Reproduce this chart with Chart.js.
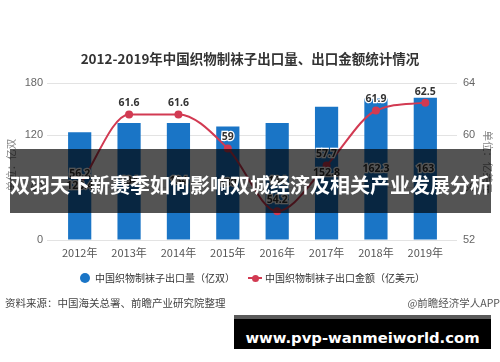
<!DOCTYPE html>
<html>
<head>
<meta charset="utf-8">
<script src="https://cdn.jsdelivr.net/npm/chart.js@4.4.1/dist/chart.umd.min.js"></script>
<style>
body{margin:0;background:#fff;}
#wrap{position:relative;width:500px;height:362px;overflow:hidden;font-family:"Noto Sans CJK SC","Noto Sans",sans-serif;}
#c{position:absolute;left:0;top:0;}
.t{position:absolute;white-space:nowrap;}
#title{left:0;width:500px;top:48px;line-height:20px;text-align:center;font-size:13.5px;font-weight:bold;color:#333;}
.lg{font-size:10px;color:#333;line-height:16px;top:270px;}
#dot1{position:absolute;left:80px;top:273px;width:10px;height:10px;border-radius:50%;background:#1a75c6;}
#ln2{position:absolute;left:248px;top:277px;width:14px;height:2px;background:#d23a52;}
#dot2{position:absolute;left:251.5px;top:274.5px;width:7px;height:7px;border-radius:50%;background:#d23a52;}
.src{font-size:10.5px;color:#444;line-height:16px;top:295px;}
#banner{position:absolute;left:10px;top:149px;width:481px;height:64px;background:rgba(0,0,0,0.67);}
#bannerText{left:0;width:500px;top:171px;line-height:28px;text-align:center;font-size:20px;font-weight:bold;color:#fff;}
#foot{position:absolute;left:234px;top:315px;width:257px;height:30px;border-top:4px solid #5a5a5a;background:#000;}
#footText{left:234px;width:257px;top:328px;line-height:20px;text-align:center;font-family:"DejaVu Sans",sans-serif;font-size:14.8px;font-weight:bold;color:#fff;}
</style>
</head>
<body>
<div id="wrap">
<canvas id="c" width="500" height="362"></canvas>
<div class="t" id="title">2012-2019年中国织物制袜子出口量、出口金额统计情况</div>
<div id="dot1"></div>
<div class="t lg" style="left:95px">中国织物制袜子出口量（亿双）</div>
<div id="ln2"></div><div id="dot2"></div>
<div class="t lg" style="left:265px">中国织物制袜子出口金额（亿美元）</div>
<div class="t src" style="left:5px">资料来源：中国海关总署、前瞻产业研究院整理</div>
<div class="t src" style="right:0;color:#555">@前瞻经济学人APP</div>
<div id="banner"></div>
<div class="t" id="bannerText">双羽天下新赛季如何影响双城经济及相关产业发展分析</div>
<div id="foot"></div>
<div class="t" id="footText">www.pvp-wanmeiworld.com</div>
</div>
<script>
const years = ["2012年","2013年","2014年","2015年","2016年","2017年","2018年","2019年"];
const exportVolume = [123.4, 134, 134, 130, 134, 152.8, 162.3, 163];
const exportAmount = [56.2, 61.6, 61.6, 59, 54.2, 57.7, 61.9, 62.5];
const leftTicks = [0, 60, 120, 180];
const rightTicks = [52, 56, 60, 64];

const barColor = "#1a75c6";
const lineColor = "#d23a52";

// value labels + rotated unit titles
const labelPlugin = {
id:"labels",
afterDatasetsDraw(chart){
const ctx = chart.ctx;
ctx.save();
ctx.textAlign = "center";
ctx.textBaseline = "middle";
ctx.font = "bold 10.5px 'Noto Sans','DejaVu Sans',sans-serif";
ctx.lineWidth = 2.5;
ctx.strokeStyle = "#fff";
ctx.fillStyle = "#333";
chart.getDatasetMeta(0).data.forEach((el,i)=>{
const txt = String(exportVolume[i]);
const y = (el.y + el.base) / 2;
ctx.strokeText(txt, el.x, y);
ctx.fillText(txt, el.x, y);
});
chart.getDatasetMeta(1).data.forEach((el,i)=>{
const txt = String(exportAmount[i]);
ctx.strokeText(txt, el.x, el.y - 11);
ctx.fillText(txt, el.x, el.y - 11);
});
ctx.font = "10.5px 'Noto Sans CJK SC',sans-serif";
ctx.fillStyle = "#888";
ctx.translate(11, 165);
ctx.rotate(-Math.PI/2);
ctx.fillText("单位：亿双", 0, 0);
ctx.restore();
ctx.save();
ctx.textAlign = "center";
ctx.textBaseline = "middle";
ctx.font = "10.5px 'Noto Sans CJK SC',sans-serif";
ctx.fillStyle = "#888";
ctx.translate(488, 162);
ctx.rotate(Math.PI/2);
ctx.fillText("单位：亿美元", 0, 0);
ctx.restore();
}
};

new Chart(document.getElementById("c"),{
data:{
labels:years,
datasets:[
{
type:"bar",
label:"中国织物制袜子出口量（亿双）",
data:exportVolume,
backgroundColor:barColor,
barPercentage:0.47,
categoryPercentage:1,
yAxisID:"y",
order:1
},
{
type:"line",
label:"中国织物制袜子出口金额（亿美元）",
data:exportAmount,
borderColor:lineColor,
backgroundColor:lineColor,
borderWidth:2,
pointRadius:4,
pointBackgroundColor:lineColor,
pointBorderWidth:0,
cubicInterpolationMode:"monotone",
yAxisID:"y1",
order:0
}
]
},
options:{
responsive:false,
animation:false,
devicePixelRatio:1,
layout:{padding:{top:83,left:0,right:0,bottom:0}},
plugins:{
legend:{display:false},
title:{display:false},
tooltip:{enabled:false}
},
scales:{
x:{
grid:{display:false,drawTicks:false},
border:{display:false},
ticks:{padding:6,color:"#555",font:{size:11,family:"'Noto Sans CJK SC',sans-serif"}},
afterFit(s){ s.height = 122; }
},
y:{
position:"left",
min:0,max:180,
afterBuildTicks(s){ s.ticks = leftTicks.map(v=>({value:v})); },
grid:{color:"#e3e3e3",tickLength:8,drawTicks:true},
border:{display:false},
ticks:{padding:4,color:"#666",font:{size:11}},
afterFit(s){ s.width = 55; }
},
y1:{
position:"right",
min:52,max:64,
afterBuildTicks(s){ s.ticks = rightTicks.map(v=>({value:v})); },
grid:{color:"#e3e3e3",tickLength:7,drawTicks:true,drawOnChartArea:false},
border:{display:false},
ticks:{padding:6,color:"#666",font:{size:11}},
afterFit(s){ s.width = 50; }
}
}
},
plugins:[labelPlugin]
});
</script>
</body>
</html>
